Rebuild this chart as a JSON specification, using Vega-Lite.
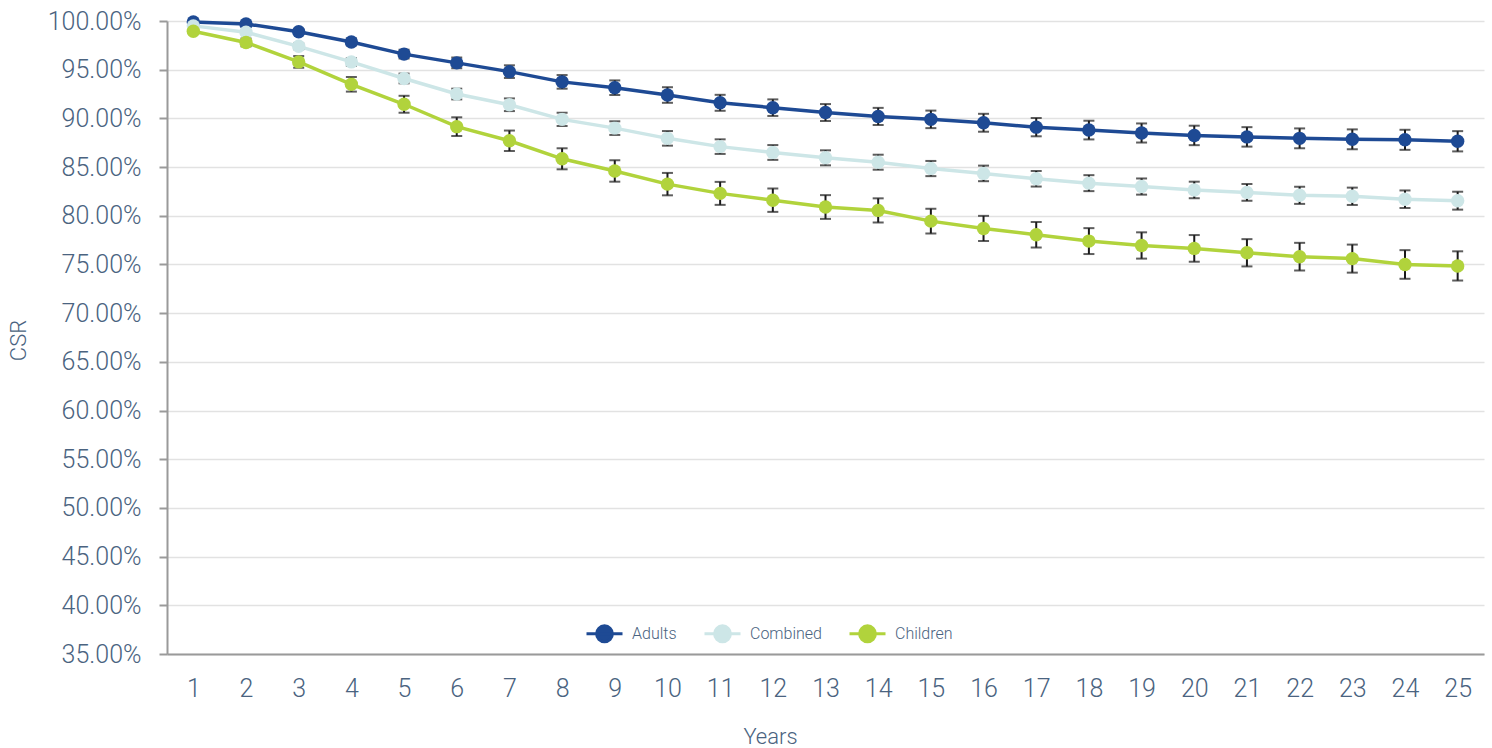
{
  "$schema": "https://vega.github.io/schema/vega-lite/v6.json",
  "autosize": "none",
  "width": 1317,
  "height": 633,
  "padding": {"left": 167, "top": 21, "right": 8, "bottom": 94},
  "background": "white",
  "config": {
    "view": {"stroke": null},
    "font": "Roboto",
    "axis": {"labelFont": "Roboto", "titleFont": "Roboto", "labelFontWeight": 300, "titleFontWeight": 300, "labelColor": "#4a6380", "titleColor": "#4a6380"}
  },
  "data": {"values": [
    {"group": "Adults", "year": 1, "csr": 99.9, "lo": 99.8, "hi": 100.0},
    {"group": "Adults", "year": 2, "csr": 99.7, "lo": 99.55, "hi": 99.85},
    {"group": "Adults", "year": 3, "csr": 98.9, "lo": 98.65, "hi": 99.15},
    {"group": "Adults", "year": 4, "csr": 97.85, "lo": 97.5, "hi": 98.2},
    {"group": "Adults", "year": 5, "csr": 96.6, "lo": 96.15, "hi": 97.05},
    {"group": "Adults", "year": 6, "csr": 95.7, "lo": 95.15, "hi": 96.25},
    {"group": "Adults", "year": 7, "csr": 94.8, "lo": 94.15, "hi": 95.45},
    {"group": "Adults", "year": 8, "csr": 93.75, "lo": 93.05, "hi": 94.45},
    {"group": "Adults", "year": 9, "csr": 93.15, "lo": 92.4, "hi": 93.9},
    {"group": "Adults", "year": 10, "csr": 92.4, "lo": 91.6, "hi": 93.2},
    {"group": "Adults", "year": 11, "csr": 91.6, "lo": 90.78, "hi": 92.42},
    {"group": "Adults", "year": 12, "csr": 91.1, "lo": 90.25, "hi": 91.95},
    {"group": "Adults", "year": 13, "csr": 90.6, "lo": 89.73, "hi": 91.47},
    {"group": "Adults", "year": 14, "csr": 90.2, "lo": 89.32, "hi": 91.08},
    {"group": "Adults", "year": 15, "csr": 89.9, "lo": 89.0, "hi": 90.8},
    {"group": "Adults", "year": 16, "csr": 89.55, "lo": 88.63, "hi": 90.47},
    {"group": "Adults", "year": 17, "csr": 89.1, "lo": 88.16, "hi": 90.04},
    {"group": "Adults", "year": 18, "csr": 88.8, "lo": 87.84, "hi": 89.76},
    {"group": "Adults", "year": 19, "csr": 88.5, "lo": 87.52, "hi": 89.48},
    {"group": "Adults", "year": 20, "csr": 88.25, "lo": 87.25, "hi": 89.25},
    {"group": "Adults", "year": 21, "csr": 88.1, "lo": 87.1, "hi": 89.1},
    {"group": "Adults", "year": 22, "csr": 87.95, "lo": 86.93, "hi": 88.97},
    {"group": "Adults", "year": 23, "csr": 87.85, "lo": 86.83, "hi": 88.87},
    {"group": "Adults", "year": 24, "csr": 87.8, "lo": 86.77, "hi": 88.83},
    {"group": "Adults", "year": 25, "csr": 87.65, "lo": 86.61, "hi": 88.69},
    {"group": "Combined", "year": 1, "csr": 99.5, "lo": 99.4, "hi": 99.6},
    {"group": "Combined", "year": 2, "csr": 98.85, "lo": 98.65, "hi": 99.05},
    {"group": "Combined", "year": 3, "csr": 97.4, "lo": 97.1, "hi": 97.7},
    {"group": "Combined", "year": 4, "csr": 95.8, "lo": 95.4, "hi": 96.2},
    {"group": "Combined", "year": 5, "csr": 94.1, "lo": 93.6, "hi": 94.6},
    {"group": "Combined", "year": 6, "csr": 92.5, "lo": 91.95, "hi": 93.05},
    {"group": "Combined", "year": 7, "csr": 91.4, "lo": 90.75, "hi": 92.05},
    {"group": "Combined", "year": 8, "csr": 89.9, "lo": 89.22, "hi": 90.58},
    {"group": "Combined", "year": 9, "csr": 89.0, "lo": 88.3, "hi": 89.7},
    {"group": "Combined", "year": 10, "csr": 87.95, "lo": 87.2, "hi": 88.7},
    {"group": "Combined", "year": 11, "csr": 87.1, "lo": 86.35, "hi": 87.85},
    {"group": "Combined", "year": 12, "csr": 86.5, "lo": 85.74, "hi": 87.26},
    {"group": "Combined", "year": 13, "csr": 85.95, "lo": 85.18, "hi": 86.72},
    {"group": "Combined", "year": 14, "csr": 85.5, "lo": 84.73, "hi": 86.27},
    {"group": "Combined", "year": 15, "csr": 84.85, "lo": 84.07, "hi": 85.63},
    {"group": "Combined", "year": 16, "csr": 84.35, "lo": 83.55, "hi": 85.15},
    {"group": "Combined", "year": 17, "csr": 83.8, "lo": 83.0, "hi": 84.6},
    {"group": "Combined", "year": 18, "csr": 83.35, "lo": 82.53, "hi": 84.17},
    {"group": "Combined", "year": 19, "csr": 83.0, "lo": 82.17, "hi": 83.83},
    {"group": "Combined", "year": 20, "csr": 82.65, "lo": 81.8, "hi": 83.5},
    {"group": "Combined", "year": 21, "csr": 82.4, "lo": 81.54, "hi": 83.26},
    {"group": "Combined", "year": 22, "csr": 82.1, "lo": 81.22, "hi": 82.98},
    {"group": "Combined", "year": 23, "csr": 82.0, "lo": 81.11, "hi": 82.89},
    {"group": "Combined", "year": 24, "csr": 81.7, "lo": 80.8, "hi": 82.6},
    {"group": "Combined", "year": 25, "csr": 81.55, "lo": 80.63, "hi": 82.47},
    {"group": "Children", "year": 1, "csr": 98.95, "lo": 98.8, "hi": 99.1},
    {"group": "Children", "year": 2, "csr": 97.8, "lo": 97.4, "hi": 98.2},
    {"group": "Children", "year": 3, "csr": 95.8, "lo": 95.2, "hi": 96.4},
    {"group": "Children", "year": 4, "csr": 93.5, "lo": 92.75, "hi": 94.25},
    {"group": "Children", "year": 5, "csr": 91.45, "lo": 90.58, "hi": 92.32},
    {"group": "Children", "year": 6, "csr": 89.15, "lo": 88.19, "hi": 90.11},
    {"group": "Children", "year": 7, "csr": 87.7, "lo": 86.65, "hi": 88.75},
    {"group": "Children", "year": 8, "csr": 85.85, "lo": 84.77, "hi": 86.93},
    {"group": "Children", "year": 9, "csr": 84.6, "lo": 83.5, "hi": 85.7},
    {"group": "Children", "year": 10, "csr": 83.25, "lo": 82.1, "hi": 84.4},
    {"group": "Children", "year": 11, "csr": 82.3, "lo": 81.12, "hi": 83.48},
    {"group": "Children", "year": 12, "csr": 81.6, "lo": 80.4, "hi": 82.8},
    {"group": "Children", "year": 13, "csr": 80.9, "lo": 79.68, "hi": 82.12},
    {"group": "Children", "year": 14, "csr": 80.55, "lo": 79.31, "hi": 81.79},
    {"group": "Children", "year": 15, "csr": 79.45, "lo": 78.18, "hi": 80.72},
    {"group": "Children", "year": 16, "csr": 78.7, "lo": 77.41, "hi": 79.99},
    {"group": "Children", "year": 17, "csr": 78.05, "lo": 76.74, "hi": 79.36},
    {"group": "Children", "year": 18, "csr": 77.4, "lo": 76.07, "hi": 78.73},
    {"group": "Children", "year": 19, "csr": 76.95, "lo": 75.6, "hi": 78.3},
    {"group": "Children", "year": 20, "csr": 76.65, "lo": 75.28, "hi": 78.02},
    {"group": "Children", "year": 21, "csr": 76.2, "lo": 74.8, "hi": 77.6},
    {"group": "Children", "year": 22, "csr": 75.8, "lo": 74.38, "hi": 77.22},
    {"group": "Children", "year": 23, "csr": 75.6, "lo": 74.16, "hi": 77.04},
    {"group": "Children", "year": 24, "csr": 75.0, "lo": 73.53, "hi": 76.47},
    {"group": "Children", "year": 25, "csr": 74.85, "lo": 73.35, "hi": 76.35}
  ]},
  "encoding": {
    "x": {
      "field": "year", "type": "quantitative",
      "scale": {"domain": [0.5, 25.5], "nice": false, "zero": false},
      "axis": {
        "title": "Years", "titleFontSize": 22,
        "titleX": 603, "titleY": 82, "titleAlign": "center", "titleBaseline": "middle",
        "values": [1,2,3,4,5,6,7,8,9,10,11,12,13,14,15,16,17,18,19,20,21,22,23,24,25],
        "labelFontSize": 25, "labelPadding": 22, "ticks": false, "grid": false,
        "domainColor": "#9a9a9a", "domainWidth": 2, "labelFlush": false
      }
    },
    "color": {
      "field": "group", "type": "nominal",
      "scale": {"domain": ["Adults", "Combined", "Children"], "range": ["#1e4a94", "#cde6e7", "#b1d33c"]},
      "legend": {
        "title": null, "orient": "none", "direction": "horizontal",
        "legendX": 418, "legendY": 593,
        "symbolType": "M-1,0H1M-0.44,0A0.44,0.44 0 1,0 0.44,0A0.44,0.44 0 1,0 -0.44,0",
        "symbolSize": 1296, "symbolStrokeWidth": 3,
        "labelFont": "Roboto", "labelFontWeight": 300, "labelFontSize": 16, "labelColor": "#4a6380",
        "labelOffset": 8, "columnPadding": 21,
        "encode": {"symbols": {"update": {"fill": {"scale": "color", "field": "value"}, "stroke": {"scale": "color", "field": "value"}, "opacity": {"value": 1}}}}
      }
    }
  },
  "layer": [
    {
      "mark": {"type": "line", "strokeWidth": 3.5},
      "encoding": {
        "y": {
          "field": "csr", "type": "quantitative",
          "scale": {"domain": [35, 100], "nice": false, "zero": false},
          "axis": {
            "title": "CSR", "titleFontSize": 22,
            "titleX": -149, "titleY": 319, "titleAlign": "center", "titleBaseline": "middle", "titleAngle": -90,
            "values": [35,40,45,50,55,60,65,70,75,80,85,90,95,100],
            "labelExpr": "format(datum.value, '.2f') + '%'",
            "labelFontSize": 25, "labelPadding": 18,
            "tickSize": 8, "tickColor": "#9a9a9a", "tickWidth": 2,
            "domainColor": "#9a9a9a", "domainWidth": 2,
            "grid": true, "gridColor": "#e2e2e2", "gridWidth": 1.5
          }
        }
      }
    },
    {
      "mark": {"type": "rule", "strokeWidth": 2},
      "encoding": {
        "y": {"field": "lo", "type": "quantitative"},
        "y2": {"field": "hi"},
        "color": {"value": "#1a1a1a"}
      }
    },
    {
      "mark": {"type": "tick", "orient": "horizontal", "size": 11, "thickness": 2},
      "encoding": {
        "y": {"field": "lo", "type": "quantitative"},
        "color": {"value": "#1a1a1a"}
      }
    },
    {
      "mark": {"type": "tick", "orient": "horizontal", "size": 11, "thickness": 2},
      "encoding": {
        "y": {"field": "hi", "type": "quantitative"},
        "color": {"value": "#1a1a1a"}
      }
    },
    {
      "mark": {"type": "point", "filled": true, "opacity": 1, "size": 180, "shape": "circle"},
      "encoding": {
        "y": {"field": "csr", "type": "quantitative"}
      }
    }
  ]
}
